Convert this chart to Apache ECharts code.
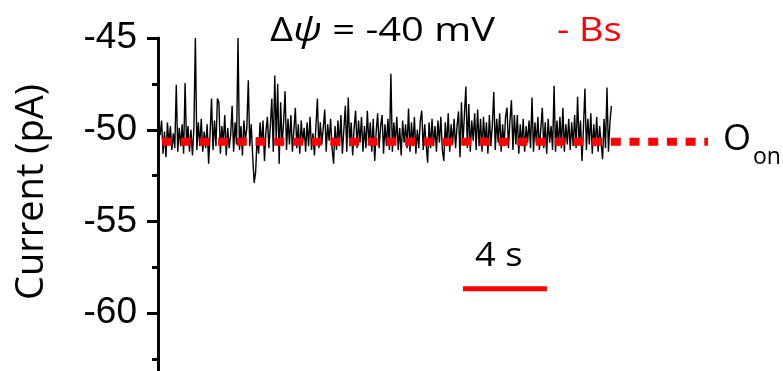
<!DOCTYPE html>
<html>
<head>
<meta charset="utf-8">
<script src="https://cdn.jsdelivr.net/npm/echarts@6/dist/echarts.min.js"></script>
<style>
html,body{margin:0;padding:0;background:#fff;overflow:hidden;width:783px;height:371px;}
#c{width:783px;height:405px;}
</style>
</head>
<body>
<div id="c"></div>
<script>
// ---- data ----
const yTicks = [-45, -50, -55, -60];
const traceStart = 0.1;     // s
const sampleStep = 0.07;    // s
const current = [
 -50.3,-49.5,-51.3,-50.1,-51.5,-49.6,-50.8,-49.8,-51.1,-50.2,-51.0,-47.55,-51.2,-49.9,-50.9,-49.7,-51.3,-47.45,-50.8,-49.8,
 -51.2,-50.0,-51.4,-49.9,-45.0,-51.1,-49.6,-50.9,-49.4,-51.2,-50.1,-51.0,-49.7,-51.85,-50.2,-48.3,-51.1,-49.5,-50.9,-48.3,
 -48.5,-51.3,-49.8,-50.7,-49.2,-51.4,-49.9,-51.0,-50.3,-48.7,-51.2,-49.6,-50.8,-45.0,-51.1,-49.8,-51.4,-49.5,-50.6,-49.9,
 -47.3,-50.9,-49.7,-51.5,-52.9,-52.3,-50.4,-51.3,-49.6,-50.8,-49.5,-51.7,-50.1,-49.3,-51.0,-49.8,-48.3,-51.2,-47.05,-50.6,
 -47.5,-51.85,-48.5,-50.9,-49.6,-47.9,-51.1,-49.4,-50.8,-49.2,-51.2,-50.0,-48.8,-51.0,-49.7,-51.3,-49.5,-50.7,-49.9,-51.2,
 -49.6,-50.9,-49.3,-51.1,-50.2,-51.4,-49.8,-48.3,-51.0,-49.6,-50.8,-49.9,-48.9,-51.2,-49.7,-50.6,-49.4,-51.0,-51.85,-49.8,
 -51.1,-49.5,-50.9,-49.2,-51.3,-50.0,-48.7,-51.2,-48.25,-50.9,-49.6,-51.4,-49.9,-48.96,-51.0,-49.5,-50.7,-49.3,-51.2,-49.8,
 -51.0,-48.96,-50.8,-49.6,-51.2,-49.4,-51.7,-50.1,-49.1,-51.0,-49.8,-49.2,-51.3,-49.7,-50.9,-49.4,-51.1,-46.95,-51.2,-49.6,
 -50.8,-49.3,-51.1,-49.9,-51.4,-49.5,-50.7,-49.7,-51.0,-48.85,-51.2,-49.6,-50.9,-49.3,-51.3,-50.0,-51.0,-49.5,-48.96,-51.1,
 -49.7,-50.8,-51.8,-49.6,-51.0,-49.4,-50.9,-49.8,-51.2,-49.5,-50.7,-49.3,-51.1,-51.7,-49.6,-50.9,-49.1,-51.2,-49.7,-50.8,
 -49.4,-51.0,-49.8,-49.0,-51.5,-48.5,-50.8,-49.2,-47.65,-51.0,-48.6,-51.2,-49.5,-50.6,-49.1,-51.1,-48.9,-50.9,-49.4,-51.2,
 -49.3,-50.8,-49.6,-51.3,-49.2,-50.9,-49.8,-47.95,-51.1,-49.4,-50.7,-49.1,-51.2,-49.7,-50.9,-49.3,-48.8,-51.0,-49.5,-48.4,
 -51.1,-49.2,-50.8,-49.2,-51.3,-49.7,-50.9,-49.4,-51.2,-49.8,-50.7,-49.5,-51.0,-48.25,-51.2,-49.6,-50.8,-49.3,-51.1,-49.9,
 -48.8,-51.0,-49.6,-51.3,-49.4,-50.7,-49.8,-51.1,-47.6,-51.2,-49.5,-50.9,-49.3,-51.0,-48.8,-51.2,-49.7,-50.8,-49.4,-51.1,
 -49.6,-50.9,-49.2,-51.0,-48.2,-50.8,-49.5,-51.7,-49.9,-47.75,-51.1,-49.4,-50.8,-49.1,-51.3,-49.7,-50.9,-49.3,-51.2,-49.8,
 -50.7,-51.6,-49.4,-51.0,-47.7,-51.2,-49.6,-48.7
];
const openLevelTime = [0.19, 26.19];
const openLevelValue = -50.65;
const scaleBarTime = [14.52, 18.52];
const scaleBarValue = -58.67;

// ---- chart ----
const trace = current.map((v, i) => [traceStart + i * sampleStep, v]);
const chart = echarts.init(document.getElementById('c'), null, {renderer: 'canvas'});
chart.setOption({
  animation: false,
  backgroundColor: '#fff',
  grid: {left: 158, top: 38, right: 16, bottom: 0, containLabel: false},
  xAxis: {type: 'value', min: 0, max: 29, show: false},
  yAxis: {
    type: 'value', min: -65, max: -45, interval: 5,
    axisLine: {show: true, onZero: false, lineStyle: {color: '#000', width: 3}},
    axisTick: {show: true, length: 11, lineStyle: {color: '#000', width: 3}},
    minorTick: {show: true, splitNumber: 2, length: 6, lineStyle: {color: '#000', width: 3}},
    splitLine: {show: false},
    axisLabel: {
      margin: 21, fontFamily: 'Liberation Sans', fontSize: 37, color: '#000',
      formatter: v => yTicks.indexOf(v) >= 0 ? String(v) : ''
    }
  },
  series: [
    {type: 'line', data: trace, symbol: 'none', lineStyle: {color: '#000', width: 1.4}, z: 2},
    {type: 'line', data: openLevelTime.map(t => [t, openLevelValue]), symbol: 'none',
     lineStyle: {color: '#ff0000', width: 8, type: [10, 8.7], cap: 'butt'}, z: 3},
    {type: 'line', data: scaleBarTime.map(t => [t, scaleBarValue]), symbol: 'none',
     lineStyle: {color: '#ff0000', width: 5, cap: 'butt'}, z: 3}
  ],
  graphic: [
    {type: 'text', x: 32, y: 192, rotation: Math.PI / 2, z: 10,
     style: {text: 'Current (pA)', fontFamily: 'Open Sans', fontSize: 38, fill: '#000',
             textAlign: 'center', textVerticalAlign: 'middle'}},
    {type: 'text', x: 270, y: 32, scaleX: 1.21, z: 10,
     style: {
       text: '{n|Δ}{i|ψ}{n| = -40 mV}', textVerticalAlign: 'middle',
       rich: {
         n: {fontFamily: 'Open Sans', fontSize: 33, fill: '#000'},
         i: {fontFamily: 'Open Sans', fontSize: 33, fontStyle: 'italic', fill: '#000'}
       }
     }},
    {type: 'text', x: 557, y: 32, scaleX: 1.15, z: 10,
     style: {text: '- Bs', fontFamily: 'Open Sans', fontSize: 33, fill: '#ff0000', textVerticalAlign: 'middle'}},
    {type: 'text', x: 475, y: 257, scaleX: 1.1, z: 10,
     style: {text: '4 s', fontFamily: 'Open Sans', fontSize: 33, fill: '#000', textVerticalAlign: 'middle'}},
    {type: 'text', x: 723, y: 140, z: 10,
     style: {text: 'O', fontFamily: 'Open Sans', fontSize: 36, fill: '#000', textVerticalAlign: 'middle'}},
    {type: 'text', x: 753, y: 157, z: 10,
     style: {text: 'on', fontFamily: 'Open Sans', fontSize: 23, fill: '#000', textVerticalAlign: 'middle'}}
  ]
});
</script>
</body>
</html>
